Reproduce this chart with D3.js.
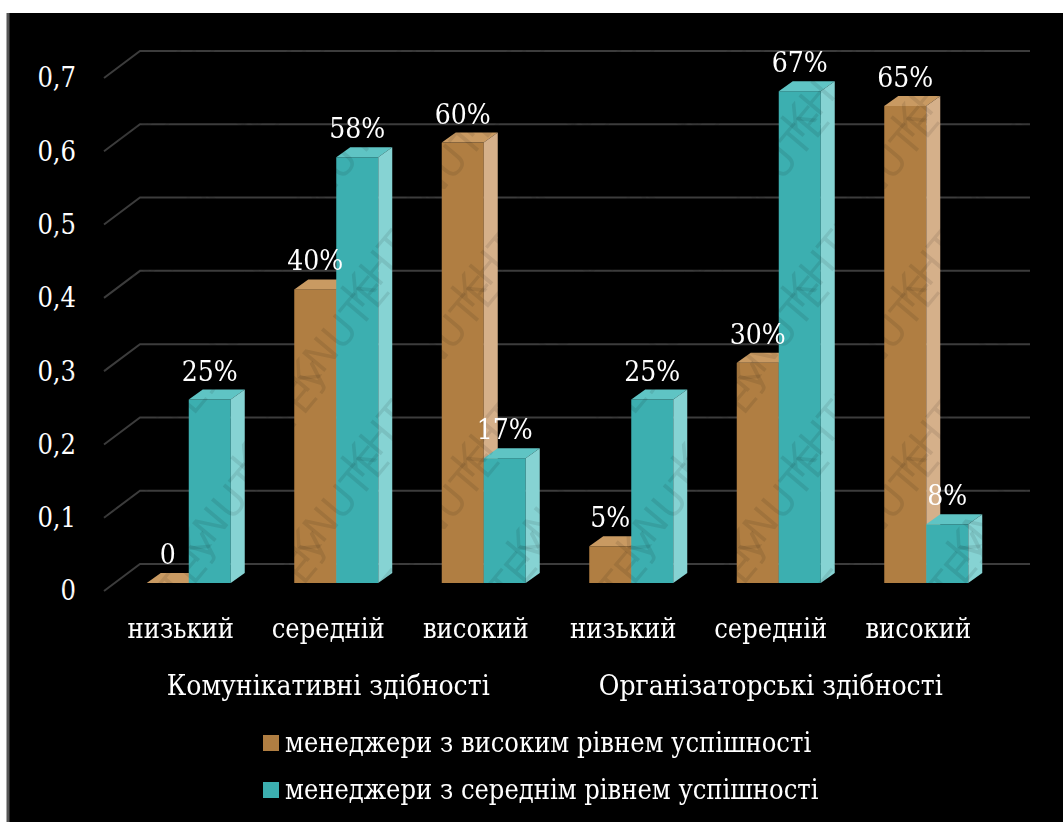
<!DOCTYPE html>
<html>
<head>
<meta charset="utf-8">
<script src="https://cdn.jsdelivr.net/npm/d3@7"></script>
<style>
  body { margin: 0; background: #fff; }
</style>
</head>
<body>
<svg id="chart" width="1063" height="822"></svg>
<script>
// data
const levels = ['низький', 'середній', 'високий', 'низький', 'середній', 'високий'];
const groups = ['Комунікативні здібності', 'Організаторські здібності'];
const seriesNames = ['менеджери з високим рівнем успішності', 'менеджери з середнім рівнем успішності'];
const highVals = [0, 0.40, 0.60, 0.05, 0.30, 0.65];
const midVals = [0.25, 0.58, 0.17, 0.25, 0.67, 0.08];
const yTicks = [0, 0.1, 0.2, 0.3, 0.4, 0.5, 0.6, 0.7];

const svg = d3.select('#chart');
const width = +svg.attr('width');
const height = +svg.attr('height');
const serif = '"DejaVu Serif Condensed", "DejaVu Serif", serif';

// colours: front, top, side
const palette = [
  {front: '#b07e42', top: '#c99a62', side: '#d5b08a'},
  {front: '#3cafb0', top: '#5fc4c4', side: '#86d3d3'}
];

svg.append('rect').attr('width', width).attr('height', height).attr('fill', '#fff');
svg.append('rect')
  .attr('x', 7).attr('y', 13).attr('width', width - 7).attr('height', height - 13)
  .attr('fill', '#000');
svg.append('line').attr('x1', 8).attr('x2', 8).attr('y1', 13).attr('y2', height)
  .attr('stroke', '#555').attr('stroke-width', 3);

// 3d offsets
const wallDx = 36, wallDy = 27;
const barDx = 14, barDy = 10;

const x = d3.scaleBand().domain(d3.range(levels.length)).range([115, 1000]);
const yGrid = d3.scaleLinear().domain([0, 0.7]).range([564, 51]);
const yBar = d3.scaleLinear().domain([0, 0.7]).range([583, 583 - 0.7 * 734]);

// gridlines with floor diagonals
const grid = svg.append('g').attr('stroke', '#3c3c3c').attr('stroke-width', 2).attr('fill', 'none');
yTicks.forEach(v => {
  const yb = yGrid(v);
  grid.append('path').attr('d', `M${140 - wallDx},${yb + wallDy}L140,${yb}L1030,${yb}`);
});

const tickFmt = d => d === 0 ? '0' : d3.format('.1f')(d).replace('.', ',');
svg.append('g').selectAll('text').data(yTicks).join('text')
  .attr('x', 76).attr('y', d => yGrid(d) + wallDy).attr('dy', '0.35em')
  .attr('text-anchor', 'end').attr('fill', '#fff').attr('font-size', 27)
  .style('font-family', serif)
  .text(tickFmt);

// bars
const barW = 42;
const bars = svg.append('g');
levels.forEach((lv, i) => {
  const center = x(i) + x.bandwidth() / 2;
  [highVals[i], midVals[i]].forEach((v, s) => {
    const x0 = center + (s === 0 ? -barW : 0);
    const x1 = x0 + barW;
    const y0 = yBar(0), yt = yBar(v);
    const c = palette[s];
    const g = bars.append('g');
    g.append('rect').attr('x', x0).attr('y', yt).attr('width', barW).attr('height', y0 - yt).attr('fill', c.front);
    g.append('path').attr('fill', c.top)
      .attr('d', `M${x0},${yt}L${x0 + barDx},${yt - barDy}L${x1 + barDx},${yt - barDy}L${x1},${yt}Z`);
    g.append('path').attr('fill', c.side)
      .attr('d', `M${x1},${yt}L${x1 + barDx},${yt - barDy}L${x1 + barDx},${y0 - barDy}L${x1},${y0}Z`);
  });
});

// watermark, only shows on light areas
const wm = svg.append('g').style('mix-blend-mode', 'multiply').attr('pointer-events', 'none');
for (let r = 0; r < 8; r++) {
  for (let c = 0; c < 10; c++) {
    const tx = 30 + c * 110 + (r % 2) * 55;
    if (tx > 980) continue;
    wm.append('text')
      .attr('transform', `translate(${tx}, ${140 + r * 85}) rotate(-50)`)
      .attr('font-size', 40).style('font-family', 'DejaVu Sans')
      .attr('fill', '#000').attr('opacity', 0.09)
      .text(r % 2 ? 'KNUTE' : 'КНТЕУ');
  }
}

// value labels
const pct = d => d === 0 ? '0' : d3.format('.0%')(d);
levels.forEach((lv, i) => {
  const center = x(i) + x.bandwidth() / 2;
  [highVals[i], midVals[i]].forEach((v, s) => {
    const cx = center + (s === 0 ? -barW / 2 : barW / 2);
    svg.append('text')
      .attr('x', cx).attr('y', yBar(v) - barDy - 9)
      .attr('text-anchor', 'middle').attr('fill', '#fff').attr('font-size', 28)
      .style('font-family', serif)
      .text(pct(v));
  });
});

// category labels
svg.append('g').selectAll('text').data(levels).join('text')
  .attr('x', (d, i) => x(i) + x.bandwidth() / 2 - 8).attr('y', 638)
  .attr('text-anchor', 'middle').attr('fill', '#fff').attr('font-size', 27)
  .style('font-family', serif)
  .text(d => d);

svg.append('g').selectAll('text').data(groups).join('text')
  .attr('x', (d, i) => (x(i * 3) + x(i * 3 + 2) + x.bandwidth()) / 2 - 8).attr('y', 695)
  .attr('text-anchor', 'middle').attr('fill', '#fff').attr('font-size', 28)
  .style('font-family', serif)
  .text(d => d);

// legend
const legend = svg.append('g').selectAll('g').data(seriesNames).join('g')
  .attr('transform', (d, i) => `translate(263, ${743 + i * 47})`);
legend.append('rect').attr('x', 0).attr('y', -8).attr('width', 16).attr('height', 16)
  .attr('fill', (d, i) => palette[i].front);
legend.append('text').attr('x', 22).attr('dy', '0.35em')
  .attr('fill', '#fff').attr('font-size', 27).style('font-family', serif)
  .text(d => d);
</script>
</body>
</html>
